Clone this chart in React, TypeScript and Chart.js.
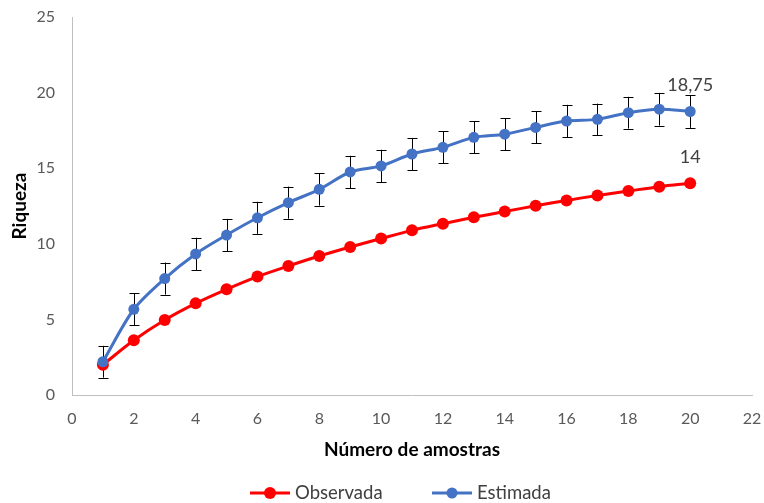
import { useEffect, useRef } from "react";
import { Chart, registerables } from "chart.js";

Chart.register(...registerables);

const samples = [1, 2, 3, 4, 5, 6, 7, 8, 9, 10, 11, 12, 13, 14, 15, 16, 17, 18, 19, 20];
const observed = [2, 3.62, 4.96, 6.06, 6.99, 7.83, 8.53, 9.19, 9.79, 10.35, 10.89, 11.33, 11.75, 12.13, 12.52, 12.87, 13.2, 13.49, 13.78, 14];
const estimated = [2.2, 5.67, 7.7, 9.33, 10.58, 11.72, 12.72, 13.6, 14.75, 15.15, 15.94, 16.38, 17.04, 17.25, 17.7, 18.12, 18.23, 18.67, 18.9, 18.75];
const estimatedError = [1.05, 1.06, 1.06, 1.07, 1.07, 1.06, 1.06, 1.07, 1.07, 1.07, 1.06, 1.06, 1.06, 1.07, 1.06, 1.07, 1.04, 1.05, 1.08, 1.08];
const seriesNames = ["Observada", "Estimada"];
const seriesColors = ["#ff0000", "#4472c4"];
const xTitle = "Número de amostras";
const yTitle = "Riqueza";
const lastLabels = ["14", "18,75"];

const FONT = "Lato, 'Open Sans', sans-serif";

export default function App() {
  const ref = useRef<HTMLCanvasElement | null>(null);

  useEffect(() => {
    const canvas = ref.current;
    if (!canvas) return;

    const errorBars = {
      id: "errorBars",
      beforeDatasetsDraw(chart: any) {
        const { ctx, scales } = chart;
        const xs = scales.x;
        const ys = scales.y;
        ctx.save();
        ctx.strokeStyle = "#000000";
        ctx.lineWidth = 1;
        samples.forEach((s, i) => {
          const px = Math.round(xs.getPixelForValue(s)) + 0.5;
          const top = ys.getPixelForValue(estimated[i] + estimatedError[i]);
          const bot = ys.getPixelForValue(estimated[i] - estimatedError[i]);
          ctx.beginPath();
          ctx.moveTo(px, top);
          ctx.lineTo(px, bot);
          ctx.moveTo(px - 5, Math.round(top) + 0.5);
          ctx.lineTo(px + 5, Math.round(top) + 0.5);
          ctx.moveTo(px - 5, Math.round(bot) + 0.5);
          ctx.lineTo(px + 5, Math.round(bot) + 0.5);
          ctx.stroke();
        });
        ctx.restore();
      },
    };

    const extras = {
      id: "extras",
      afterDraw(chart: any) {
        const { ctx, scales } = chart;
        const xs = scales.x;
        const ys = scales.y;
        ctx.save();
        ctx.font = `18px ${FONT}`;
        ctx.fillStyle = "#404040";
        ctx.textAlign = "center";
        ctx.textBaseline = "middle";
        const n = samples.length - 1;
        const lx = xs.getPixelForValue(samples[n]);
        ctx.fillText(lastLabels[0], lx, ys.getPixelForValue(observed[n]) - 26);
        ctx.fillText(lastLabels[1], lx, ys.getPixelForValue(estimated[n]) - 26);

        const ly = 493;
        const items = [
          { name: seriesNames[0], color: seriesColors[0], x0: 250, r: 6 },
          { name: seriesNames[1], color: seriesColors[1], x0: 432, r: 5.5 },
        ];
        items.forEach((it) => {
          ctx.strokeStyle = it.color;
          ctx.lineWidth = 3;
          ctx.beginPath();
          ctx.moveTo(it.x0, ly);
          ctx.lineTo(it.x0 + 40, ly);
          ctx.stroke();
          ctx.fillStyle = it.color;
          ctx.beginPath();
          ctx.arc(it.x0 + 20, ly, it.r, 0, Math.PI * 2);
          ctx.fill();
          ctx.fillStyle = "#404040";
          ctx.textAlign = "left";
          ctx.font = `18.5px ${FONT}`;
          ctx.fillText(it.name, it.x0 + 45, ly);
        });
        ctx.restore();
      },
    };

    const chart = new Chart(canvas, {
      type: "line",
      data: {
        datasets: [
          {
            label: seriesNames[0],
            data: samples.map((s, i) => ({ x: s, y: observed[i] })),
            borderColor: seriesColors[0],
            backgroundColor: seriesColors[0],
            borderWidth: 3,
            pointRadius: 6,
            pointBorderWidth: 0,
            tension: 0.3,
            order: 2,
          },
          {
            label: seriesNames[1],
            data: samples.map((s, i) => ({ x: s, y: estimated[i] })),
            borderColor: seriesColors[1],
            backgroundColor: seriesColors[1],
            borderWidth: 3,
            pointRadius: 5.5,
            pointBorderWidth: 0,
            tension: 0.3,
            order: 1,
          },
        ],
      },
      options: {
        responsive: false,
        animation: false,
        layout: { padding: { left: 0, right: 12, top: 17, bottom: 40 } },
        plugins: {
          legend: { display: false },
          tooltip: { enabled: false },
        },
        scales: {
          x: {
            type: "linear",
            min: 0,
            max: 22,
            ticks: {
              stepSize: 2,
              color: "#595959",
              font: { family: FONT, size: 16 },
              padding: 14.4,
            },
            grid: { display: false, drawTicks: false },
            border: { display: true, color: "#bfbfbf", width: 1 },
            title: {
              display: true,
              text: xTitle,
              color: "#000000",
              font: { family: FONT, size: 19, weight: "bold" },
              padding: { top: 0, bottom: 1.6 },
            },
            afterFit(scale: any) {
              scale.height = 68;
              scale.paddingLeft = 0;
              scale.paddingRight = 0;
            },
          },
          y: {
            type: "linear",
            min: 0,
            max: 25,
            ticks: {
              stepSize: 5,
              color: "#595959",
              font: { family: FONT, size: 16 },
              padding: 17,
            },
            grid: { display: false, drawTicks: false },
            border: { display: true, color: "#bfbfbf", width: 1 },
            title: {
              display: true,
              text: yTitle,
              color: "#000000",
              font: { family: FONT, size: 19, weight: "bold" },
              padding: { top: 8.6, bottom: 0 },
            },
            afterFit(scale: any) {
              scale.width = 72;
              scale.paddingTop = 0;
              scale.paddingBottom = 0;
            },
          },
        },
      },
      plugins: [errorBars, extras],
    });

    return () => chart.destroy();
  }, []);

  return (
    <div style={{ position: "fixed", left: 0, top: 0, width: 764, height: 503, background: "#ffffff" }}>
      <canvas ref={ref} width={764} height={503} />
    </div>
  );
}
